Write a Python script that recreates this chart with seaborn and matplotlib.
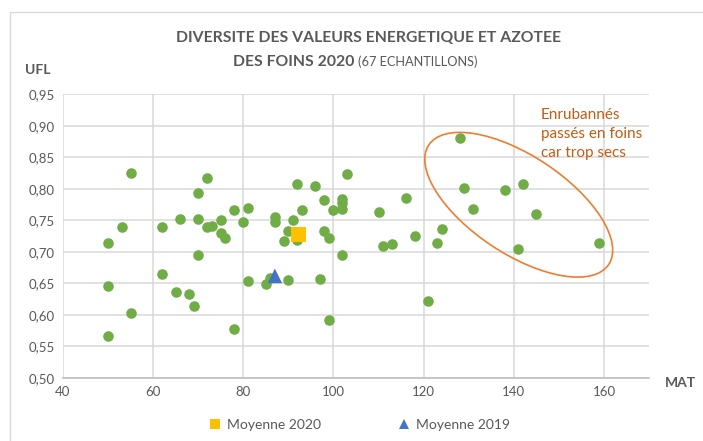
import matplotlib
matplotlib.use("Agg")
import matplotlib.pyplot as plt
import matplotlib.transforms as mtransforms
from matplotlib.patches import Ellipse, Rectangle
from matplotlib.lines import Line2D
import seaborn as sns
import pandas as pd

# ---- data ----
mat = [50, 50, 50, 53, 55, 55, 62, 62, 65, 66, 68, 69, 70, 70, 70, 72, 72, 73, 75, 75,
       76, 78, 78, 80, 81, 81, 85, 86, 87, 87, 89, 90, 90, 91, 92, 92, 93, 96, 97, 98,
       98, 99, 99, 100, 102, 102, 102, 102, 103, 110, 111, 113, 116, 118, 121, 123, 124,
       128, 129, 131, 138, 141, 142, 145, 159]
ufl = [0.715, 0.646, 0.566, 0.740, 0.825, 0.603, 0.740, 0.665, 0.637, 0.753, 0.633, 0.614,
       0.793, 0.753, 0.695, 0.817, 0.740, 0.742, 0.750, 0.730, 0.722, 0.766, 0.578, 0.748,
       0.770, 0.654, 0.649, 0.658, 0.755, 0.748, 0.718, 0.733, 0.656, 0.750, 0.808, 0.719,
       0.767, 0.805, 0.657, 0.783, 0.734, 0.722, 0.592, 0.766, 0.784, 0.778, 0.769, 0.695,
       0.824, 0.763, 0.710, 0.713, 0.785, 0.725, 0.623, 0.714, 0.737, 0.881, 0.801, 0.769,
       0.798, 0.705, 0.808, 0.761, 0.715]
mean_labels = ["Moyenne 2020", "Moyenne 2019"]
mean_mat = [92.2, 87.0]
mean_ufl = [0.728, 0.662]
x_ticks = [40, 60, 80, 100, 120, 140, 160]
y_ticks = [0.50, 0.55, 0.60, 0.65, 0.70, 0.75, 0.80, 0.85, 0.90, 0.95]
title_line1 = "DIVERSITE DES VALEURS ENERGETIQUE ET AZOTEE"
title_line2_bold = "DES FOINS 2020"
title_line2_light = "(67 ECHANTILLONS)"
note = "Enrubannés\npassés en foins\ncar trop secs"

GRAY = "#595959"
GRID = "#D9D9D9"
GREEN = "#70AD47"
ORANGE = "#ED7D31"

sns.set_theme(style="white")
plt.rcParams["font.family"] = ["Lato", "DejaVu Sans"]

fig = plt.figure(figsize=(7.03, 4.41), dpi=100)
ax = fig.add_axes([63 / 703, 1 - 378 / 441, 586 / 703, (378 - 94.5) / 441])

df = pd.DataFrame({"MAT": mat, "UFL": ufl})
sns.scatterplot(data=df, x="MAT", y="UFL", ax=ax, color=GREEN, s=58, linewidth=0, zorder=3)

dm = pd.DataFrame({"MAT": mean_mat, "UFL": mean_ufl, "lab": mean_labels})
sns.scatterplot(data=dm, x="MAT", y="UFL", hue="lab", style="lab", ax=ax,
                palette={"Moyenne 2020": "#FFC000", "Moyenne 2019": "#4472C4"},
                markers={"Moyenne 2020": "s", "Moyenne 2019": "^"},
                s=110, linewidth=0, zorder=4, legend=False)

ax.set_xlim(40, 170)
ax.set_ylim(0.5, 0.95)
ax.set_xticks(x_ticks)
ax.set_yticks(y_ticks)
ax.set_xticklabels([str(t) for t in x_ticks])
ax.set_yticklabels([f"{t:.2f}".replace(".", ",") for t in y_ticks])
ax.tick_params(axis="both", length=0, labelsize=9.5, colors=GRAY, pad=6)
ax.grid(True, color=GRID, linewidth=1.1, zorder=0)
ax.set_axisbelow(True)
for s in ["top", "right", "left"]:
    ax.spines[s].set_visible(False)
ax.spines["bottom"].set_color("#BFBFBF")
ax.spines["bottom"].set_linewidth(1.2)
ax.set_xlabel("")
ax.set_ylabel("")

# axis titles
fig.text(25 / 703, 1 - 70 / 441, "UFL", fontsize=10, fontweight="bold", color=GRAY, va="center", ha="left")
fig.text(665 / 703, 1 - 383 / 441, "MAT", fontsize=10, fontweight="bold", color=GRAY, va="center", ha="left")

# titles
fig.text(369 / 703, 1 - 38 / 441, title_line1, fontsize=11.3, fontweight="bold", color=GRAY,
         ha="center", va="center")
fig.text(354 / 703, 1 - 62 / 441, title_line2_bold, fontsize=11.3, fontweight="bold", color=GRAY,
         ha="right", va="center")
fig.text(358 / 703, 1 - 62 / 441, title_line2_light, fontsize=9.2, color=GRAY,
         ha="left", va="center")

# annotation
ax.text(146, 0.928, note, fontsize=11, color="#C55A11", ha="left", va="top", linespacing=1.42)
ell_tr = (mtransforms.Affine2D().scale(108, 49).rotate_deg(-33.6)
          + mtransforms.ScaledTranslation(141.1, 0.775, ax.transData))
ell = Ellipse((0, 0), 2, 2, fill=False, edgecolor=ORANGE, linewidth=1.2, transform=ell_tr,
              clip_on=False)
ax.add_patch(ell)

# legend
handles = [Line2D([], [], marker="s", color="none", markerfacecolor="#FFC000", markeredgewidth=0, markersize=7.5),
           Line2D([], [], marker="^", color="none", markerfacecolor="#4472C4", markeredgewidth=0, markersize=7.5)]
fig.legend(handles, mean_labels, loc="center", bbox_to_anchor=(360 / 703, 1 - 425 / 441), ncol=2,
           frameon=False, fontsize=10, handlelength=0.8, handletextpad=0.45, columnspacing=5.6,
           labelcolor=GRAY)

# chart frame
fig.add_artist(Rectangle((10 / 703, -0.1), 1.2, 1 - 12 / 441 + 0.1, transform=fig.transFigure,
                         fill=False, edgecolor=GRID, linewidth=1.0))

fig.savefig("out.png", dpi=100)
